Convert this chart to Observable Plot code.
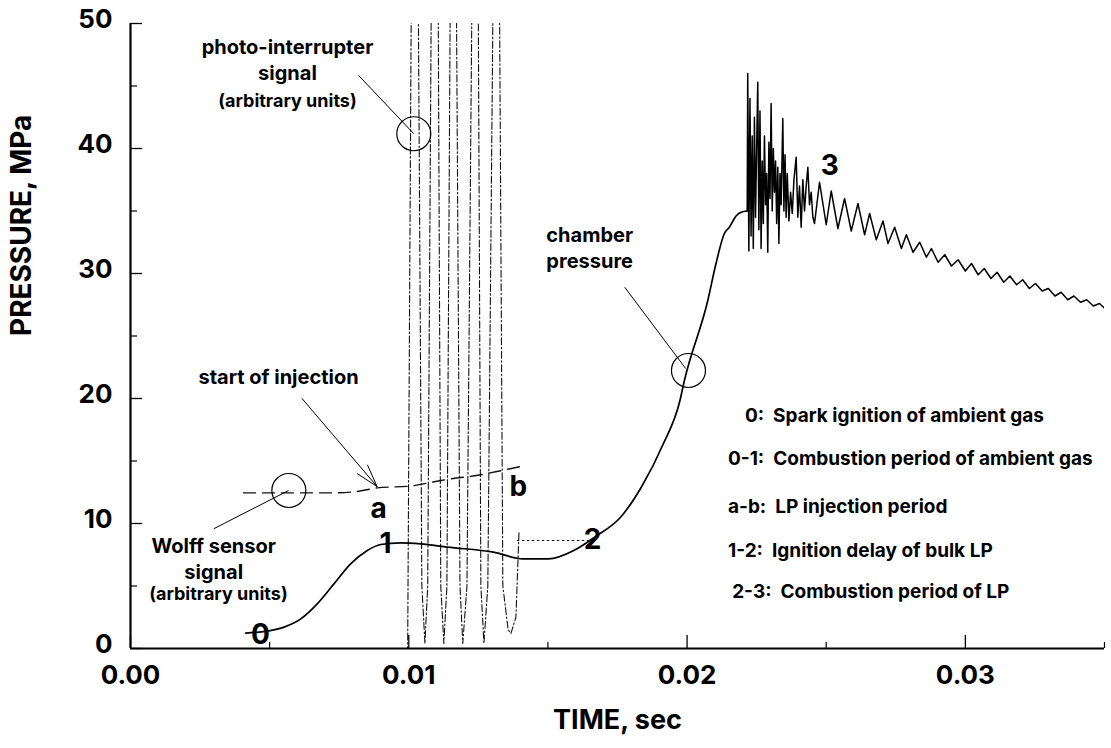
<!DOCTYPE html>
<html><head><meta charset="utf-8">
<script src="https://cdn.jsdelivr.net/npm/d3@7"></script>
<script src="https://cdn.jsdelivr.net/npm/@observablehq/plot@0.6"></script>
<style>body{margin:0;background:#fff;}</style>
</head><body><div id="chart"></div>
<script>
// ---- chamber pressure (MPa) vs time (s): smooth rise
const riseTime = [0.00414,0.00492,0.00552,0.00612,0.00671,0.00731,0.00791,0.00851,0.00899,0.00971,0.01043,0.01139,0.01304,0.01410,0.01502,0.01593,0.01669,0.01761,0.01837,0.01913,0.01974,0.01990,0.02074,0.02104,0.02134,0.02152,0.02176,0.02194,0.02216];
const risePressure = [1.23,1.39,1.71,2.37,3.57,5.17,6.77,7.84,8.32,8.45,8.37,8.11,7.71,7.17,7.17,7.84,8.93,10.5,12.96,16.3,19.8,21.4,27.8,30.8,33.2,33.7,34.6,34.9,35.0];
// ---- chamber pressure: oscillating combustion part
const oscTime = [0.02216,0.02218,0.02222,0.02226,0.0223,0.02234,0.02238,0.02242,0.02246,0.0225,0.02254,0.02258,0.02262,0.02266,0.0227,0.02274,0.02278,0.02282,0.02286,0.0229,0.02294,0.02298,0.02302,0.02306,0.0231,0.02314,0.02318,0.02322,0.02326,0.0233,0.02334,0.02338,0.02344,0.02348,0.02352,0.02356,0.0236,0.02366,0.02372,0.02378,0.02384,0.02392,0.02398,0.02404,0.0241,0.02416,0.02422,0.02428,0.02434,0.0244,0.02446,0.02452,0.02458,
 0.02476,0.025,0.02518,0.02542,0.02566,0.0259,0.02614,0.02638,0.02656,0.0268,0.02704,0.02722,0.02746,0.0277,0.02788,0.02812,0.02836,0.0286,0.02878,0.02902,0.02926,0.0295,0.02974,0.03,0.03022,0.03046,0.03068,0.03092,0.03114,0.03138,0.0316,0.03184,0.03206,0.0323,0.03252,0.03276,0.03298,0.03322,0.03344,0.03368,0.0339,0.03414,0.03436,0.0346,0.03482,0.03506];
const oscPressure = [35.0,46.0,31.8,44.0,33.0,41.0,32.0,42.5,34.5,40.0,45.3,33.5,43.0,32.0,39.0,34.0,41.0,35.5,38.0,31.7,40.5,36.0,43.6,35.0,40.0,36.5,39.0,34.0,38.5,32.4,38.0,35.5,42.4,35.0,39.5,34.5,38.0,34.2,36.5,34.8,37.5,39.3,34.5,37.0,33.7,37.5,35.0,37.0,38.5,35.5,36.5,34.5,34.0,
 37.3,33.9,36.6,33.6,36.0,33.4,35.6,33.1,34.8,32.7,34.2,32.4,33.7,32.0,33.1,31.7,32.5,31.3,32.0,30.9,31.5,30.6,31.1,30.2,30.8,29.9,30.4,29.6,30.1,29.3,29.8,29.1,29.5,28.8,29.2,28.6,28.8,28.2,28.5,27.9,28.2,27.7,27.9,27.4,27.6,27.1];

// ---- Wolff sensor signal (arbitrary units)
const wolffTime = [0.00406,0.0073,0.0081,0.00887,0.01007,0.01115,0.01151,0.01242,0.01334,0.01401];
const wolffSignal = [12.45,12.45,12.55,12.85,13.0,13.44,13.57,13.84,14.24,14.56];

// ---- photo-interrupter signal (arbitrary units)
const photoTime = [0.0025,0.00996,0.01011,0.01032,0.01047,0.01058,0.01068,0.01083,0.01104,0.01115,0.01126,0.01137,0.01151,0.01169,0.01184,0.01194,0.01209,0.0123,0.01248,0.01259,0.0127,0.01284,0.01306,0.01324,0.01338,0.01357,0.01367,0.01385,0.01396];
const photoSignal = [0,0,60,60,5,0.4,5,60,60,5,0.4,5,60,60,5,0.4,5,60,60,5,0.4,5,60,60,5,1.5,1.2,2.5,9.3];

// ---- 1-2 reference level
const delayTime = [0.0139,0.01645];
const delayLevel = [8.64,8.64];

// ---- axes
const xMajorTicks = [0,0.01,0.02,0.03];
const xMinorTicks = [0.005,0.015,0.025,0.035];
const yMajorTicks = [0,10,20,30,40,50];
const yMinorTicks = [5,15,25,35,45];

// ---- annotations
const circleX = [0.01018,0.00569,0.02005];
const circleY = [41.18,12.64,22.24];
const leaderX1 = [0.0082,0.00299,0.01776];
const leaderY1 = [45.84,9.58,28.9];
const leaderX2 = [0.01018,0.00568,0.01995];
const leaderY2 = [41.18,12.64,22.4];
const arrowX = [0.00617,0.00886];
const arrowY = [19.98,12.96];

const noteText = ["photo-interrupter\nsignal","chamber\npressure","start of injection","Wolff sensor\nsignal"];
const noteX = [0.00564,0.0165,0.00532,0.00299];
const noteY = [48.1,33.0,21.7,8.19];
const unitsText = ["(arbitrary units)","(arbitrary units)"];
const unitsX = [0.00564,0.00316];
const unitsY = [43.8,4.32];

const pointText = ["0","1","a","b","2","3"];
const pointX = [0.00467,0.00916,0.00892,0.01394,0.0166,0.02513];
const pointY = [1.04,8.37,11.17,12.9,8.64,38.6];

const legendText = ["0:\u00a0\u00a0Spark ignition of ambient gas","0-1:\u00a0\u00a0Combustion period of ambient gas","a-b:\u00a0\u00a0LP injection period","1-2:\u00a0\u00a0Ignition delay of bulk LP","2-3:\u00a0\u00a0Combustion period of LP"];
const legendX = [0.02208,0.02147,0.02147,0.02147,0.02162];
const legendY = [18.64,15.2,11.3,7.84,4.5];

// ---- tables
const rise = riseTime.map((t,i)=>({t,p:risePressure[i]}));
const osc = oscTime.map((t,i)=>({t,p:oscPressure[i]}));
const wolff = wolffTime.map((t,i)=>({t,p:wolffSignal[i]}));
const photo = photoTime.map((t,i)=>({t,p:photoSignal[i]}));
const delay = delayTime.map((t,i)=>({t,p:delayLevel[i]}));
const circles = circleX.map((x,i)=>({x,y:circleY[i]}));
const leaders = leaderX1.map((x,i)=>({x1:x,y1:leaderY1[i],x2:leaderX2[i],y2:leaderY2[i]}));
const arrows = [{x1:arrowX[0],y1:arrowY[0],x2:arrowX[1],y2:arrowY[1]}];
const notes = noteText.map((s,i)=>({s,x:noteX[i],y:noteY[i]}));
const units = unitsText.map((s,i)=>({s,x:unitsX[i],y:unitsY[i]}));
const points = pointText.map((s,i)=>({s,x:pointX[i],y:pointY[i]}));
const legend = legendText.map((s,i)=>({s,x:legendX[i],y:legendY[i]}));

const W = 1111, H = 748, mL = 130, mR = 7, mT = 23, mB = 100;
const fw = W - mL - mR, fh = H - mT - mB;
const FONT = "Inter, 'Liberation Sans', Arial, sans-serif";

const chart = Plot.plot({
  width: W, height: H,
  marginLeft: mL, marginRight: mR, marginTop: mT, marginBottom: mB,
  x: {domain: [0, 0.035], axis: null},
  y: {domain: [0, 50], axis: null},
  style: {fontFamily: FONT, background: "white", color: "black"},
  marks: [
    Plot.line(photo, {x: "t", y: "p", stroke: "#111", strokeWidth: 1.1, strokeDasharray: "7,2.5,1.5,2.5", clip: true}),
    Plot.line(wolff, {x: "t", y: "p", stroke: "#111", strokeWidth: 1.4, strokeDasharray: "12,7", curve: "monotone-x"}),
    Plot.line(delay, {x: "t", y: "p", stroke: "#111", strokeWidth: 1.2, strokeDasharray: "1.5,3.5"}),
    Plot.line(rise, {x: "t", y: "p", stroke: "#000", strokeWidth: 1.7, curve: "monotone-x"}),
    Plot.line(osc, {x: "t", y: "p", stroke: "#000", strokeWidth: 1.5, clip: true}),
    Plot.dot(circles, {x: "x", y: "y", r: 17, stroke: "#000", fill: "none", strokeWidth: 1.2}),
    Plot.link(leaders, {x1: "x1", y1: "y1", x2: "x2", y2: "y2", stroke: "#000", strokeWidth: 1}),
    Plot.arrow(arrows, {x1: "x1", y1: "y1", x2: "x2", y2: "y2", stroke: "#000", strokeWidth: 1, headLength: 35, headAngle: 33}),
    // axis lines and ticks
    Plot.ruleY([0], {stroke: "#000", strokeWidth: 2.2}),
    Plot.ruleX([0], {stroke: "#000", strokeWidth: 2.2}),
    Plot.tickX(xMajorTicks, {x: d => d, insetTop: fh - 13, stroke: "#000", strokeWidth: 1.3}),
    Plot.tickX(xMinorTicks, {x: d => d, insetTop: fh - 6, stroke: "#000", strokeWidth: 1.2}),
    Plot.tickY(yMajorTicks, {y: d => d, insetRight: fw - 12, stroke: "#000", strokeWidth: 1.3}),
    Plot.tickY(yMinorTicks, {y: d => d, insetRight: fw - 7, stroke: "#000", strokeWidth: 1.2}),
    // tick labels
    Plot.text(xMajorTicks, {x: d => d, frameAnchor: "bottom", dy: 35, text: d => d3.format(".2f")(d), fontSize: 26, fontWeight: 700, fill: "#000"}),
    Plot.text(yMajorTicks, {y: d => d, frameAnchor: "left", dx: -18, dy: -4, textAnchor: "end", text: d => String(d), fontSize: 26, fontWeight: 700, fill: "#000"}),
    // titles
    Plot.text(["TIME, sec"], {frameAnchor: "bottom", dy: 80, text: d => d, fontSize: 27, fontWeight: 700, fill: "#000"}),
    Plot.text(["PRESSURE, MPa"], {frameAnchor: "left", dx: -108, rotate: -90, text: d => d, fontSize: 28, fontWeight: 700, fill: "#000"}),
    // annotations
    Plot.text(notes, {x: "x", y: "y", text: "s", fontSize: 20, lineHeight: 1.3, lineAnchor: "top", dy: -12, fontWeight: 700, fill: "#000"}),
    Plot.text(units, {x: "x", y: "y", text: "s", fontSize: 18, fontWeight: 700, fill: "#000"}),
    Plot.text(points, {x: "x", y: "y", text: "s", fontSize: 28, fontWeight: 700, fill: "#000"}),
    Plot.text(legend, {x: "x", y: "y", text: "s", textAnchor: "start", fontSize: 19, fontWeight: 700, fill: "#000"})
  ]
});
document.getElementById("chart").appendChild(chart);
</script>
</body></html>
